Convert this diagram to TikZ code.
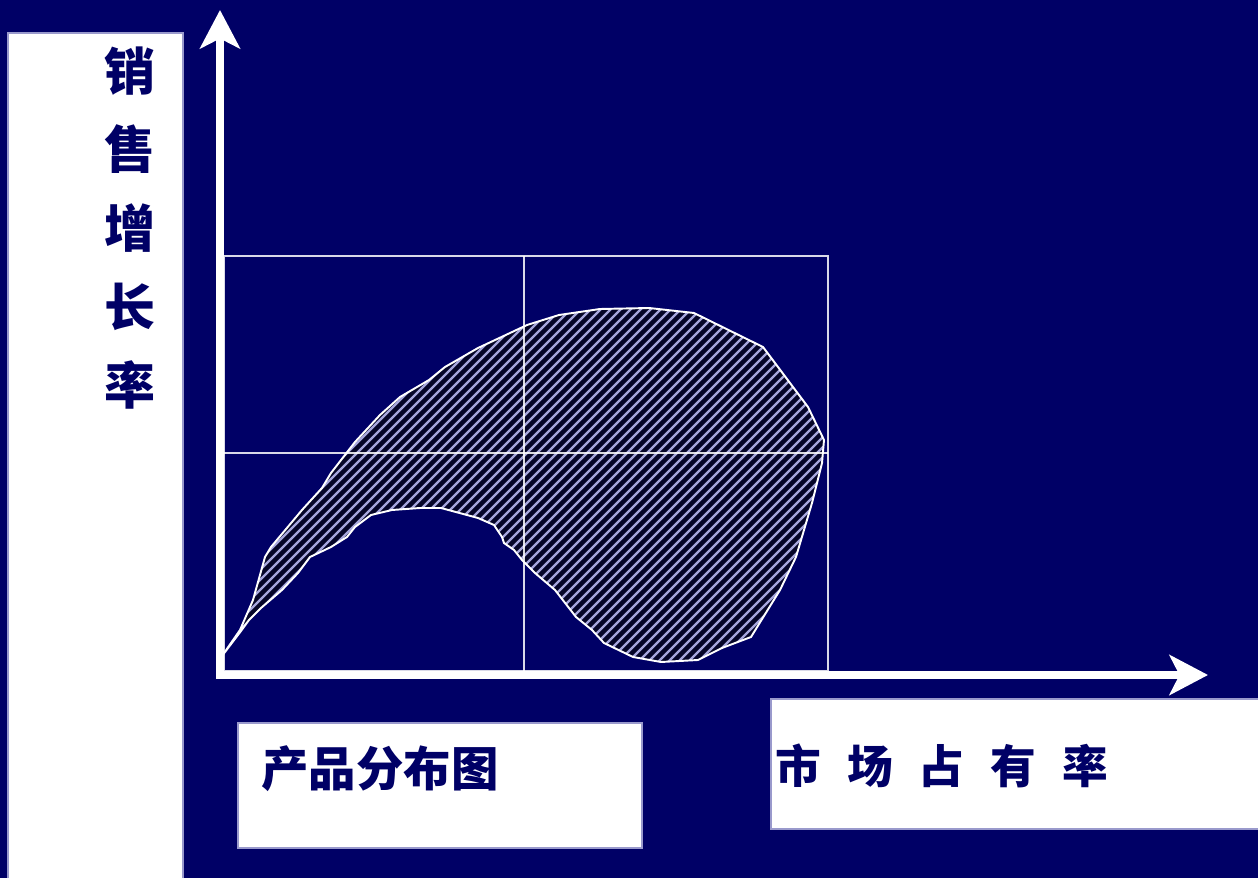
\documentclass[tikz,border=0pt]{standalone}
\usepackage{fontspec}
\usepackage{tikz}
\usetikzlibrary{arrows.meta,positioning}
\newfontfamily\cjk{Noto Sans CJK SC}
\usepackage{xcolor}
\definecolor{navybg}{RGB}{0,0,102}
\definecolor{panelline}{RGB}{153,153,204}
\definecolor{blobdark}{RGB}{5,5,40}
\definecolor{stripe}{RGB}{165,165,220}
\tikzstyle{axis} = [line width=4pt,white,line cap=rect,-{Stealth[length=0.77cm,width=0.8cm,inset=0.2cm]}]
\tikzstyle{gridline} = [white,line width=0.8pt,opacity=0.85]
\tikzstyle{panel} = [fill=white,draw=panelline,line width=0.6pt]
\tikzstyle{cjktext} = [text=navybg,inner sep=0pt]
\tikzstyle{stripeline} = [stripe,line width=1.4pt]
\newcommand{\charsp}{\hspace{0.57em}}
\newcommand{\blobshape}{(222,656) -- (240,630) -- (253,600) -- (265,557) -- (271,547) -- (302,510)
  -- (322,488) -- (331,473) -- (355,442) -- (380,415) -- (400,397) -- (429,380) -- (445,367)
  -- (478,348) -- (510,333) -- (527,325) -- (559,315) -- (600,309) -- (649,308) -- (694,313)
  -- (763,347) -- (808,407) -- (824,440) -- (822,463) -- (812,503) -- (796,557) -- (780,590)
  -- (751,637) -- (722,648) -- (698,660) -- (661,662) -- (633,657) -- (604,643) -- (592,630)
  -- (576,617) -- (555,590) -- (535,573) -- (522,560) -- (514,550) -- (504,543) -- (502,537)
  -- (494,525) -- (478,518) -- (441,508) -- (420,508) -- (392,510) -- (371,515) -- (355,527)
  -- (347,537) -- (331,547) -- (310,557) -- (298,573) -- (282,590) -- (261,608) -- (249,620)
  -- (241,631) -- cycle}

\begin{document}
\begin{tikzpicture}[x=0.02cm, y=-0.02cm]
% Background
\fill[navybg] (0,0) rectangle (1258,878);
\useasboundingbox (0,0) rectangle (1258,878);

% White panels
\path[panel] (8,33) rectangle (183,895);
\path[panel] (238,723) rectangle (642,848);
\path[panel] (771,699) rectangle (1275,829);

% Labels
\node[cjktext, align=center, font=\cjk\bfseries\fontsize{29}{44.8}\selectfont] (ylabel) at (130,228) {销\\售\\增\\长\\率};
\node[cjktext, anchor=west, font=\cjk\bfseries\fontsize{27}{30}\selectfont] (title) at (261,769) {产品分布图};
\node[cjktext, anchor=west, font=\cjk\bfseries\fontsize{26}{30}\selectfont] (xlabel) at (775,766) {市\charsp 场\charsp 占\charsp 有\charsp 率};

% Hatched region
\begin{scope}
\clip \blobshape;
\fill[blobdark] (200,290) rectangle (840,680);
\foreach \c in {780,790,...,1400}
  \draw[stripeline] (\c-700,700) -- (\c-290,290);
\end{scope}
\draw[white, line width=1.1pt] \blobshape;

% Grid
\draw[gridline] (224,256) rectangle (828,671);
\draw[gridline] (524,256) -- (524,671);
\draw[gridline] (224,453) -- (828,453);

% Axes
\coordinate (origin) at (220,675);
\coordinate (ytop) at (220,10);
\coordinate (xend) at (1208,675);
\draw[axis] (origin) -- (ytop);
\draw[axis] (origin) -- (xend);
\end{tikzpicture}
\end{document}
